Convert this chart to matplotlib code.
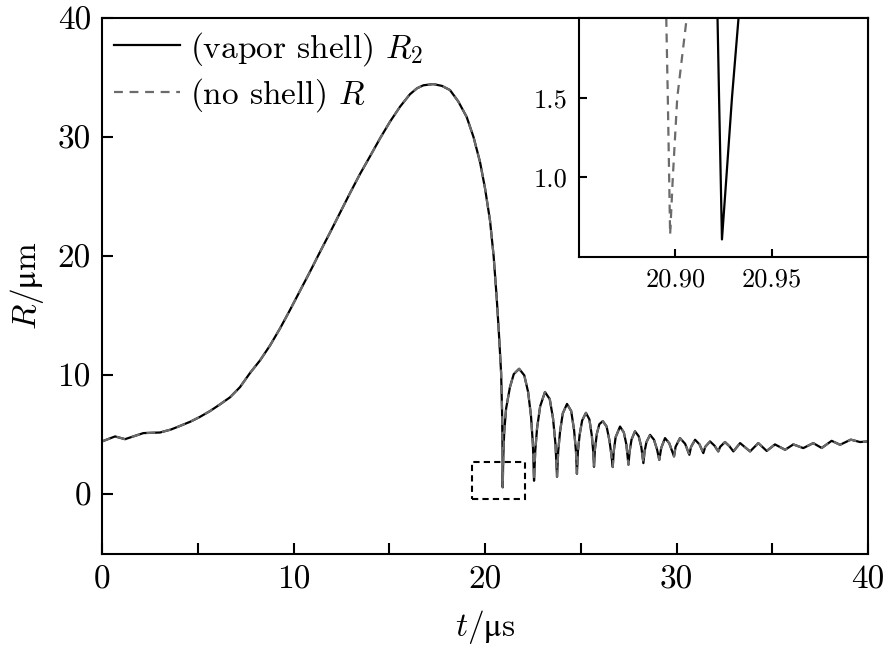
import matplotlib
matplotlib.use("Agg")
import numpy as np
import matplotlib.pyplot as plt
from matplotlib.patches import Rectangle

plt.rcParams['font.family'] = 'cmr10'
plt.rcParams['mathtext.fontset'] = 'custom'
plt.rcParams['mathtext.rm'] = 'cmr10'
plt.rcParams['mathtext.it'] = 'cmmi10'
plt.rcParams['mathtext.bf'] = 'cmb10'
plt.rcParams['mathtext.sf'] = 'STIXGeneral'
plt.rcParams['axes.formatter.use_mathtext'] = False
plt.rcParams['axes.unicode_minus'] = False

# R(t) (vapor shell R2; no-shell R nearly identical)
t_us = [0.0, 0.68, 1.2, 2.16, 3.03, 3.6, 4.07, 4.6, 5.1, 5.64, 6.15, 6.68,
        7.2, 7.73, 8.25, 8.77, 9.3, 9.82, 10.34, 10.86, 11.38, 11.91, 12.43,
        12.95, 13.47, 14.0, 14.52, 15.04, 15.56, 16.08, 16.45, 16.78, 17.3,
        17.75, 18.17, 18.6, 19.04, 19.4, 19.74, 20.0, 20.26, 20.45, 20.61,
        20.73, 20.84, 20.89, 20.915, 20.924, 20.95, 21.0, 21.1, 21.3, 21.5,
        21.78, 22.05, 22.25, 22.4, 22.5, 22.56, 22.62, 22.72, 22.88, 23.13,
        23.38, 23.55, 23.68, 23.76, 23.82, 23.92, 24.06, 24.28, 24.5, 24.65,
        24.75, 24.8, 24.85, 24.94, 25.07, 25.27, 25.45, 25.58, 25.65, 25.69,
        25.74, 25.84, 25.97, 26.15, 26.35, 26.5, 26.6, 26.67, 26.72, 26.82,
        27.05, 27.25, 27.38, 27.49, 27.55, 27.65, 27.83, 28.02, 28.16, 28.27,
        28.33, 28.43, 28.62, 28.82, 28.98, 29.1, 29.2, 29.4, 29.62, 29.87,
        29.95, 30.18, 30.45, 30.67, 30.76, 30.97, 31.2, 31.4, 31.5, 31.75,
        31.98, 32.18, 32.28, 32.53, 32.76, 32.97, 33.32, 33.84, 34.27, 34.71,
        35.14, 35.67, 36.1, 36.62, 37.14, 37.58, 38.1, 38.54, 39.1, 39.58,
        40.0]
R_um = [4.45, 4.87, 4.64, 5.15, 5.2, 5.45, 5.75, 6.1, 6.5, 7.0, 7.55, 8.15,
        9.0, 10.2, 11.25, 12.5, 13.95, 15.5, 17.1, 18.7, 20.35, 22.0, 23.65,
        25.3, 26.9, 28.4, 29.9, 31.3, 32.55, 33.6, 34.1, 34.35, 34.45,
        34.3, 33.95, 33.0, 31.7, 30.0, 27.9, 25.7, 23.0, 20.0, 16.5,
        13.4, 10.2, 7.0, 3.5, 0.6, 3.0, 5.2, 7.2, 9.0, 10.1,
        10.55, 10.0, 8.6, 6.6, 4.2, 1.15, 3.6, 5.6, 7.4, 8.6,
        8.0, 6.4, 4.2, 1.48, 3.6, 5.3, 6.8, 7.6, 7.0, 5.4,
        3.6, 1.73, 3.6, 5.0, 6.2, 6.85, 6.3, 4.9, 3.6, 2.32,
        3.8, 5.1, 5.9, 6.15, 5.7, 4.5, 3.3, 2.3, 3.6, 4.8,
        5.7, 5.2, 4.2, 2.5, 3.6, 4.6, 5.3, 4.9, 4.0, 2.63,
        3.6, 4.4, 5.0, 4.6, 3.8, 2.9, 3.9, 4.73, 4.3, 3.19,
        4.0, 4.73, 4.25, 3.33, 4.0, 4.59, 4.2, 3.47, 4.0, 4.45,
        4.1, 3.61, 4.0, 4.4, 4.05, 3.61, 4.31, 3.61, 4.31, 3.65,
        4.2, 3.75, 4.2, 3.89, 4.31, 3.9, 4.5, 4.17, 4.6, 4.4,
        4.45]

# close-up of the first collapse (inset)
ins_t_shell = [20.9219, 20.9227, 20.9242, 20.9265, 20.9294, 20.9328]
ins_R_shell = [2.0, 1.5, 0.61, 1.0, 1.5, 2.0]
ins_t_noshell = [20.8953, 20.8961, 20.8973, 20.8987, 20.9010, 20.9059]
ins_R_noshell = [2.0, 1.5, 0.64, 1.0, 1.5, 2.0]

fig = plt.figure(figsize=(8.88, 6.45), dpi=100)
ax = fig.add_axes([0.1149, 0.1411, 0.8626, 0.831])

ax.plot(t_us, R_um, color='k', linewidth=1.6, label=r'(vapor shell) $R_2$')
ax.plot(t_us, R_um, color='0.42', linewidth=1.6, dashes=(4, 3),
        label=r'(no shell) $R$')
ax.add_patch(Rectangle((19.3, -0.4), 2.8, 3.1, fill=False, edgecolor='k',
                       linewidth=1.5, linestyle=(0, (3, 2))))

ax.set_xlim(0, 40)
ax.set_ylim(-5, 40)
ax.set_xticks([0, 10, 20, 30, 40])
ax.set_xticks([5, 15, 25, 35], minor=True)
ax.set_yticks([0, 10, 20, 30, 40])
ax.tick_params(which='both', direction='in', length=8, width=1.5,
               labelsize=24, top=False, right=False, pad=8)
for s in ax.spines.values():
    s.set_linewidth(1.5)
ax.set_xlabel(r'$t/\mathsf{\mu}\mathrm{s}$', fontsize=24, labelpad=10)
ax.set_ylabel(r'$R/\mathsf{\mu}\mathrm{m}$', fontsize=24, labelpad=8)
ax.legend(loc='upper left', frameon=False, fontsize=24, handlelength=2.0,
          borderaxespad=0.1, labelspacing=0.25, handletextpad=0.3,
          borderpad=0.25)

axi = fig.add_axes([0.652, 0.6016, 0.3255, 0.3705])
axi.plot(ins_t_shell, ins_R_shell, color='k', linewidth=1.6)
axi.plot(ins_t_noshell, ins_R_noshell, color='0.42', linewidth=1.6,
         dashes=(4, 3))
axi.set_xlim(20.85, 21.0)
axi.set_ylim(0.5, 2.0)
axi.set_xticks([20.90, 20.95])
axi.set_yticks([1.0, 1.5])
axi.ticklabel_format(useOffset=False)
axi.tick_params(direction='in', length=6, width=1.5, labelsize=19,
                top=False, right=False, pad=8)
for s in axi.spines.values():
    s.set_linewidth(1.5)

fig.savefig('out.png', dpi=100)
